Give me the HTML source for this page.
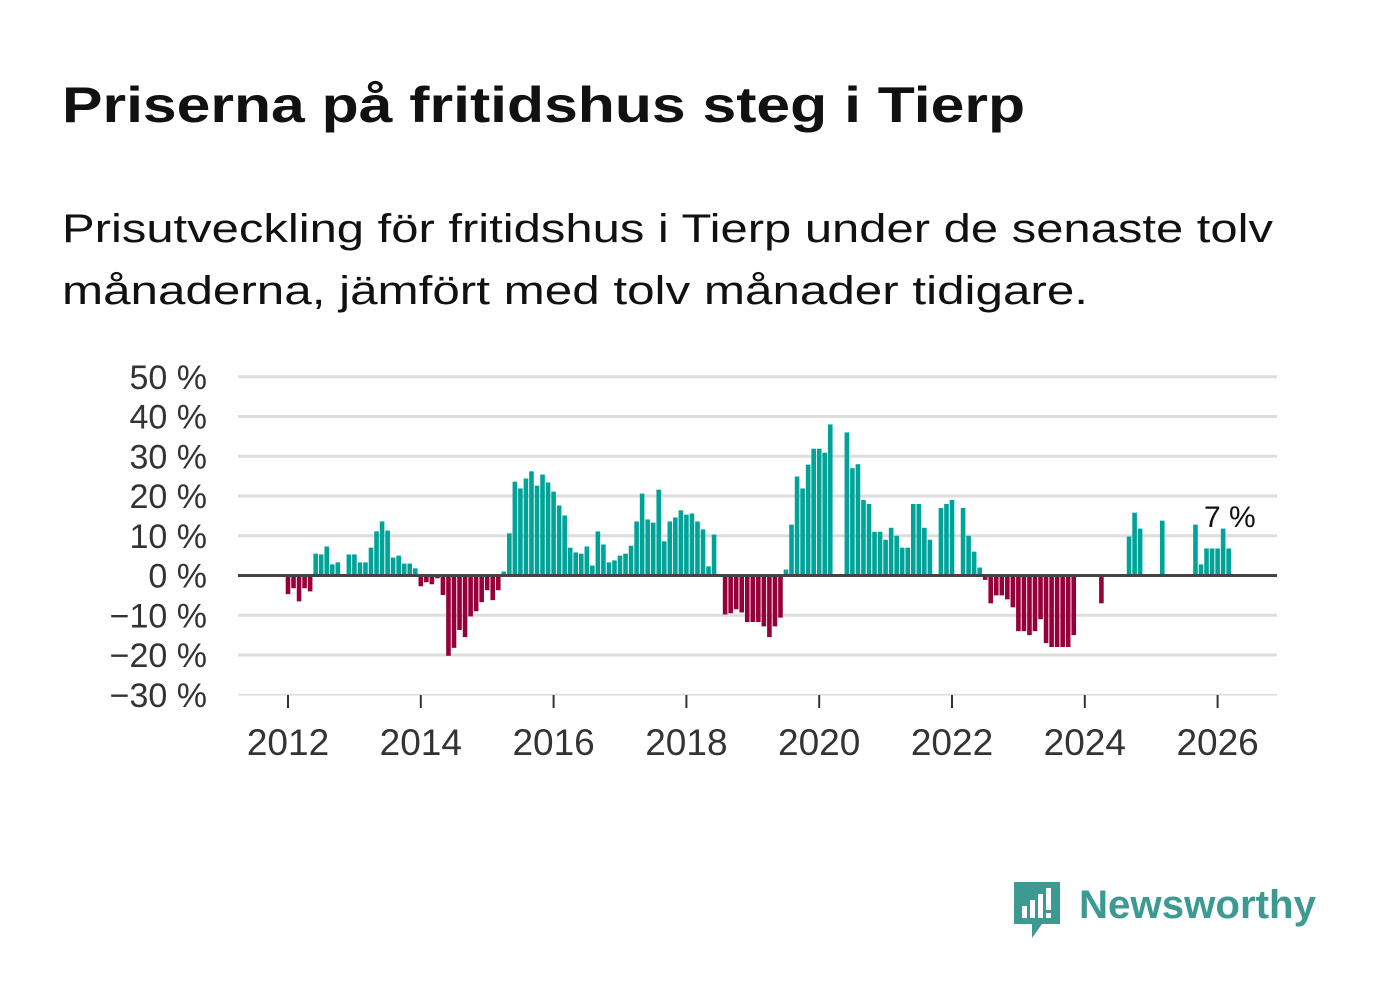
<!DOCTYPE html>
<html><head><meta charset="utf-8"><style>
html,body{margin:0;padding:0;background:#fff;}
svg{display:block;font-family:"Liberation Sans",sans-serif;}
</style></head><body>
<svg id="chart" width="1382" height="999" viewBox="0 0 1382 999" xmlns="http://www.w3.org/2000/svg">
<text x="62" y="122" font-size="50" font-weight="bold" fill="#111" textLength="963" lengthAdjust="spacingAndGlyphs">Priserna på fritidshus steg i Tierp</text>
<text x="62" y="242" font-size="40" fill="#111" textLength="1211" lengthAdjust="spacingAndGlyphs">Prisutveckling för fritidshus i Tierp under de senaste tolv</text>
<text x="62" y="304" font-size="40" fill="#111" textLength="1026" lengthAdjust="spacingAndGlyphs">månaderna, jämfört med tolv månader tidigare.</text>
<g id="grid"></g><g id="bars"></g><g id="axes"></g>
<g>
<path d="M1014 882 h46 v42 h-18 l-10 14 v-14 h-18 z" fill="#3d9a92"/>
<rect x="1022" y="906" width="5" height="12" fill="#fff"/><rect x="1030" y="900" width="5" height="18" fill="#fff"/><rect x="1038" y="894" width="5" height="24" fill="#fff"/><rect x="1046" y="888" width="5" height="22" fill="#fff"/><rect x="1046" y="913" width="5" height="5" fill="#fff"/>
<text x="1079" y="918" font-size="40" font-weight="bold" fill="#3d9a92" textLength="237" lengthAdjust="spacingAndGlyphs">Newsworthy</text>
</g>
</svg>
<script>
const startYear = 2012;
const values = [
-4.7,-3.2,-6.5,-3.2,-4,5.5,5.3,7.3,2.8,3.3,null,5.3,
5.3,3.3,3.3,7.0,11.1,13.6,11.3,4.5,5,3,3,1.8,
-2.7,-1.7,-2.2,-0.7,-4.9,-20.2,-18.2,-13.7,-15.5,-10.3,-9,-6.7,
-3.7,-6.2,-3.7,1,10.6,23.6,21.9,24.4,26.2,22.6,25.4,23.4,
21.1,17.6,15.1,7.0,5.8,5.5,7.3,2.5,11.1,7.8,3.3,3.8,
5.0,5.5,7.5,13.6,20.6,14.1,13.3,21.6,8.6,13.6,14.6,16.4,
15.3,15.6,13.6,11.6,2.3,10.3,null,-9.8,-9.5,-8.5,-9.3,-11.7,
-11.7,-11.7,-12.8,-15.5,-12.8,-10.6,1.5,12.8,24.9,21.9,27.9,31.9,
31.9,30.9,38,null,null,36,27,28,19,18,11,11,
9,12,10,7,7,18,18,12,9,null,17,18,
19,null,17,10,6,2,-1.1,-7,-5,-5,-6,-8,
-14,-14,-15,-14,-11,-17,-18,-18,-18,-18,-15,null,
null,null,null,-7,null,null,null,null,9.8,15.8,11.8,null,
null,null,13.8,null,null,null,null,null,12.8,2.8,6.8,6.8,
6.8,11.8,6.8
];
const yTicks = [50,40,30,20,10,0,-10,-20,-30];
const xTickYears = [2012,2014,2016,2018,2020,2022,2024,2026];
const lastLabel = "7 %";
const NS="http://www.w3.org/2000/svg";
const y = v => 575.5 - v*3.975;
const x = i => 288 + i*(66.4/12);
function mk(tag, attrs, parent){const e=document.createElementNS(NS,tag);for(const k in attrs)e.setAttribute(k,attrs[k]);parent.appendChild(e);return e;}
const grid=document.getElementById('grid'), bars=document.getElementById('bars'), axes=document.getElementById('axes');
yTicks.forEach(t=>{
  if(t!==0){const l=mk('line',{x1:238,x2:1277,y1:y(t),y2:y(t),stroke:'#dddddd','stroke-width':t===-30?1.5:3},grid);
  
  }
  const tx=mk('text',{x:207,y:y(t)+12,'text-anchor':'end','font-size':34,fill:'#333'},axes);
  tx.textContent=(t<0?'\u2212'+(-t):t)+' %';
  
  
});
values.forEach((v,i)=>{
  if(v===null)return;
  const r=mk('rect',{x:x(i)-2.3,width:4.6,y:Math.min(y(v),y(0)),height:Math.abs(y(v)-y(0)),fill:v>=0?'#00a398':'#96003a'},bars);
  
  
});
const z=mk('line',{x1:238,x2:1277,y1:y(0),y2:y(0),stroke:'#444','stroke-width':3},axes);


xTickYears.forEach(yr=>{
  const xi=x((yr-startYear)*12);
  const tk=mk('line',{x1:xi,x2:xi,y1:695,y2:708,stroke:'#333','stroke-width':2},axes);
  
  
  const tx=mk('text',{x:xi,y:755,'text-anchor':'middle','font-size':37,fill:'#333'},axes);
  tx.textContent=yr;
  
  
});
const li=values.length-1;
const lbl=mk('text',{x:x(li)+27,y:527,'text-anchor':'end','font-size':30,fill:'#111'},axes);
lbl.textContent=lastLabel;


</script>
</body></html>
